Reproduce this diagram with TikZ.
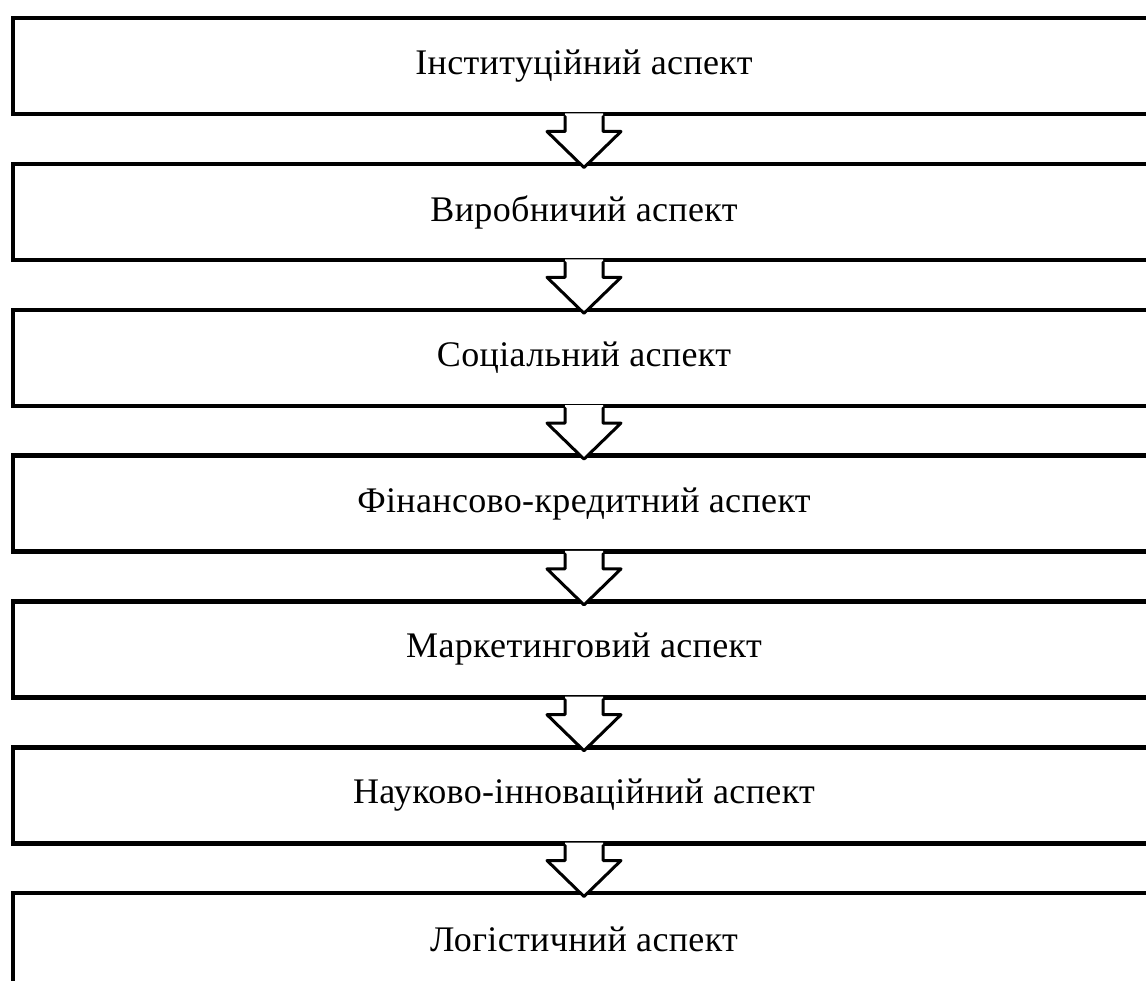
\documentclass[tikz,border=0pt]{standalone}
\usepackage{fontspec}
\setmainfont{Liberation Serif}
\begin{document}
\begin{tikzpicture}[x=1pt,y=-1pt,
  box/.style={draw=black, line width=4.5pt, fill=white, rectangle, inner sep=0pt,
    minimum width=1142pt, minimum height=96pt, anchor=north,
    font=\fontsize{36pt}{40pt}\selectfont\addfontfeature{LetterSpace=1}},
  flow/.style={draw=black, line width=3pt, line join=round, line cap=round},
]
\useasboundingbox (0,0) rectangle (1146,981);
\fill[white] (0,0) rectangle (1146,981);
\foreach \t [count=\i] in {Інституційний аспект, Виробничий аспект, Соціальний аспект, Фінансово-кредитний аспект, Маркетинговий аспект, Науково-інноваційний аспект, Логістичний аспект}{
  \pgfmathsetmacro{\yy}{16+(\i-1)*145.8}
  \node[box] (b\i) at (584,\yy) {\raisebox{3pt}{\t}};
}
\foreach \i in {1,...,6}{
  \fill[white, shift={(b\i.south)}] (-19,-3) -- (-19,15) -- (-37,15) -- (0,51) -- (37,15) -- (19,15) -- (19,-3) -- cycle;
  \draw[flow, shift={(b\i.south)}] (-19,0) -- (-19,15) -- (-37,15) -- (0,51) -- (37,15) -- (19,15) -- (19,0);
}
\end{tikzpicture}
\end{document}
